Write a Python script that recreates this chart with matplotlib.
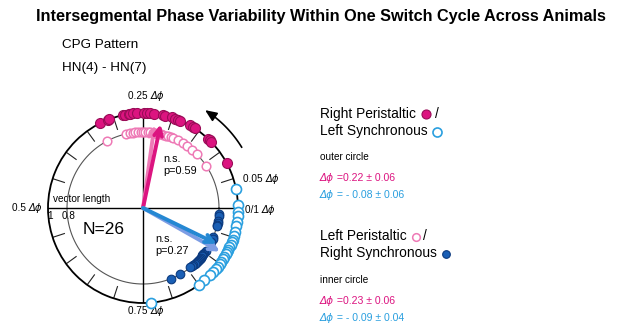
import numpy as np
import matplotlib
matplotlib.use("Agg")
import matplotlib.pyplot as plt

plt.rcParams['font.family'] = ['Liberation Sans', 'DejaVu Sans']

# ---- data (phase in cycles, 0..1; negative = before 0) ----
right_peri_outer = [0.325, 0.31, 0.308, 0.283, 0.28, 0.274, 0.272, 0.266, 0.26, 0.248,
                    0.244, 0.238, 0.232, 0.216, 0.212, 0.201, 0.195, 0.19, 0.186, 0.168,
                    0.162, 0.158, 0.13, 0.126, 0.122, 0.078]
left_sync_outer = [0.032, 0.005, -0.006, -0.014, -0.023, -0.03, -0.04, -0.047, -0.054, -0.058,
                   -0.063, -0.068, -0.072, -0.077, -0.081, -0.086, -0.091, -0.096, -0.101, -0.106,
                   -0.111, -0.118, -0.125, -0.138, -0.149, -0.236]
left_peri_inner = [0.328, 0.285, 0.278, 0.272, 0.266, 0.26, 0.255, 0.25, 0.245, 0.24,
                   0.235, 0.23, 0.224, 0.218, 0.212, 0.207, 0.2, 0.196, 0.19, 0.185,
                   0.175, 0.163, 0.152, 0.139, 0.125, 0.094]
right_sync_inner = [-0.013, -0.016, -0.028, -0.031, -0.036, -0.039, -0.062, -0.066, -0.073, -0.095,
                    -0.1, -0.104, -0.107, -0.11, -0.113, -0.116, -0.119, -0.122, -0.125, -0.128,
                    -0.131, -0.135, -0.139, -0.143, -0.169, -0.19]
# mean vectors: phase, vector length (right peri, left peri, left sync, right sync)
mean_phase = [0.217, 0.228, -0.072, -0.082]
mean_length = [0.90, 0.88, 0.86, 0.93]
outer_r = 1.0
inner_r = 0.8

C_MAG = '#dc1480'
C_MAG_EDGE = '#9a0d58'
C_PINK = '#ee7ab6'
C_CYAN = '#2a9fdf'
C_BLUE = '#1a5fb5'
C_BLUE_EDGE = '#0c3a7e'
C_ARR_BLUE = '#2588d3'
C_ARR_LAV = '#7d9de4'

W, H = 617, 330
fig = plt.figure(figsize=(W / 100, H / 100), dpi=100)

# overlay axes in pixel coordinates
ov = fig.add_axes([0, 0, 1, 1])
ov.set_xlim(0, W)
ov.set_ylim(H, 0)
ov.axis('off')

cx, cy, R = 143, 208, 95
ax = fig.add_axes([(cx - R) / W, (H - cy - R) / H, 2 * R / W, 2 * R / H], projection='polar')
ax.set_ylim(0, 1)
ax.set_xticks([])
ax.set_yticks([])
ax.grid(False)
ax.spines['polar'].set_linewidth(1.3)
ax.patch.set_alpha(0)

def th(p):
    return 2 * np.pi * np.asarray(p)

# inner circle
tt = np.linspace(0, 2 * np.pi, 400)
ax.plot(tt, np.full_like(tt, inner_r), color='#555555', lw=0.8, zorder=1)
# cross lines
for q in [0, 0.25, 0.5, 0.75]:
    ax.plot([th(q), th(q)], [0, 1], color='black', lw=1.0, zorder=1)
# ticks
for k in range(20):
    if k % 5 == 0:
        continue
    t = th(k * 0.05)
    ax.plot([t, t], [0.87, 1.0], color='#222222', lw=0.8, zorder=1)

# data points
ax.plot(th(left_peri_inner), np.full(len(left_peri_inner), inner_r), 'o', ms=6.2,
        mfc='white', mec=C_PINK, mew=1.1, zorder=4, clip_on=False)
ax.plot(th(right_sync_inner), np.full(len(right_sync_inner), inner_r), 'o', ms=6.2,
        mfc=C_BLUE, mec=C_BLUE_EDGE, mew=0.8, zorder=4, clip_on=False)
ax.plot(th(left_sync_outer), np.full(len(left_sync_outer), outer_r), 'o', ms=7.2,
        mfc='white', mec=C_CYAN, mew=1.2, zorder=5, clip_on=False)
ax.plot(th(right_peri_outer), np.full(len(right_peri_outer), outer_r), 'o', ms=7.2,
        mfc=C_MAG, mec=C_MAG_EDGE, mew=0.8, zorder=5, clip_on=False)

# mean vectors
arrow_cols = [C_MAG, C_PINK, C_ARR_BLUE, C_ARR_LAV]
order = [1, 0, 3, 2]
for i in order:
    ax.annotate('', xy=(th(mean_phase[i]), mean_length[i]), xytext=(0, 0),
                arrowprops=dict(arrowstyle='->,head_length=0.55,head_width=0.28',
                                color=arrow_cols[i], lw=2.8, shrinkA=0, shrinkB=0),
                zorder=6)

# curved direction arrow
ta = np.linspace(th(0.088), th(0.150), 50)
ax.plot(ta, np.full_like(ta, 1.22), color='black', lw=1.2, clip_on=False)
ax.annotate('', xy=(th(0.160), 1.22), xytext=(th(0.148), 1.22),
            arrowprops=dict(arrowstyle='-|>,head_length=0.7,head_width=0.3', color='black',
                            lw=1.2, shrinkA=0, shrinkB=0), annotation_clip=False)

# ---- text helpers ----
def chain(x, y, parts, size, color='black', va='center'):
    prev = None
    for txt, it in parts:
        style = 'italic' if it else 'normal'
        fam = ['DejaVu Sans'] if it else ['Liberation Sans', 'DejaVu Sans']
        if prev is None:
            prev = ov.text(x, y, txt, fontsize=size, color=color, style=style,
                           family=fam, ha='left', va=va)
        else:
            prev = ov.annotate(txt, xy=(1, 0), xycoords=prev, fontsize=size, color=color,
                               style=style, family=fam, ha='left', va='bottom')
    return prev

D = 'Δϕ'
# title and header
ov.text(321, 17, 'Intersegmental Phase Variability Within One Switch Cycle Across Animals',
        fontsize=11.7, fontweight='bold', ha='center', va='center')
ov.text(62, 45, 'CPG Pattern', fontsize=9.7, ha='left', va='center')
ov.text(62, 68, 'HN(4) - HN(7)', fontsize=9.7, ha='left', va='center')

# circle labels
lab = 7.2
chain(128, 96, [('0.25 ', False), (D, True)], lab)
chain(243, 179, [('0.05 ', False), (D, True)], lab)
chain(245, 210, [('0/1 ', False), (D, True)], lab)
chain(12, 208, [('0.5 ', False), (D, True)], lab)
chain(128, 311, [('0.75 ', False), (D, True)], lab)
ov.text(53, 199, 'vector length', fontsize=7.2, ha='left', va='center')
ov.text(47, 216, '1', fontsize=7.2, ha='left', va='center')
ov.text(62, 216, '0.8', fontsize=7.2, ha='left', va='center')
ov.text(83, 230, 'N=26', fontsize=12.5, ha='left', va='center')
ov.text(163, 159, 'n.s.', fontsize=7.8, ha='left', va='center')
ov.text(163, 171, 'p=0.59', fontsize=7.8, ha='left', va='center')
ov.text(155, 239, 'n.s.', fontsize=7.8, ha='left', va='center')
ov.text(155, 251, 'p=0.27', fontsize=7.8, ha='left', va='center')

# legend block
big = 9.9
ov.text(320, 114, 'Right Peristaltic', fontsize=big, ha='left', va='center')
ov.plot([426], [114], 'o', ms=6.5, mfc=C_MAG, mec=C_MAG_EDGE, mew=0.8)
ov.text(435, 114, '/', fontsize=big, ha='left', va='center')
ov.text(320, 131.5, 'Left Synchronous', fontsize=big, ha='left', va='center')
ov.plot([437], [131.5], 'o', ms=6.5, mfc='white', mec=C_CYAN, mew=1.2)
ov.text(320, 157, 'outer circle', fontsize=7.2, ha='left', va='center')
chain(320, 178, [(D, True), (' =0.22 ± 0.06', False)], 7.6, color=C_MAG)
chain(320, 195, [(D, True), (' = - 0.08 ± 0.06', False)], 7.6, color=C_CYAN)

ov.text(320, 236.5, 'Left Peristaltic', fontsize=big, ha='left', va='center')
ov.plot([416], [236.5], 'o', ms=5.5, mfc='white', mec=C_PINK, mew=1.1)
ov.text(423, 236.5, '/', fontsize=big, ha='left', va='center')
ov.text(320, 253.5, 'Right Synchronous', fontsize=big, ha='left', va='center')
ov.plot([446], [253.5], 'o', ms=5.5, mfc=C_BLUE, mec=C_BLUE_EDGE, mew=0.8)
ov.text(320, 280, 'inner circle', fontsize=7.2, ha='left', va='center')
chain(320, 301, [(D, True), (' =0.23 ± 0.06', False)], 7.6, color=C_MAG)
chain(320, 318, [(D, True), (' = - 0.09 ± 0.04', False)], 7.6, color=C_CYAN)

fig.savefig('out.png', dpi=100)
